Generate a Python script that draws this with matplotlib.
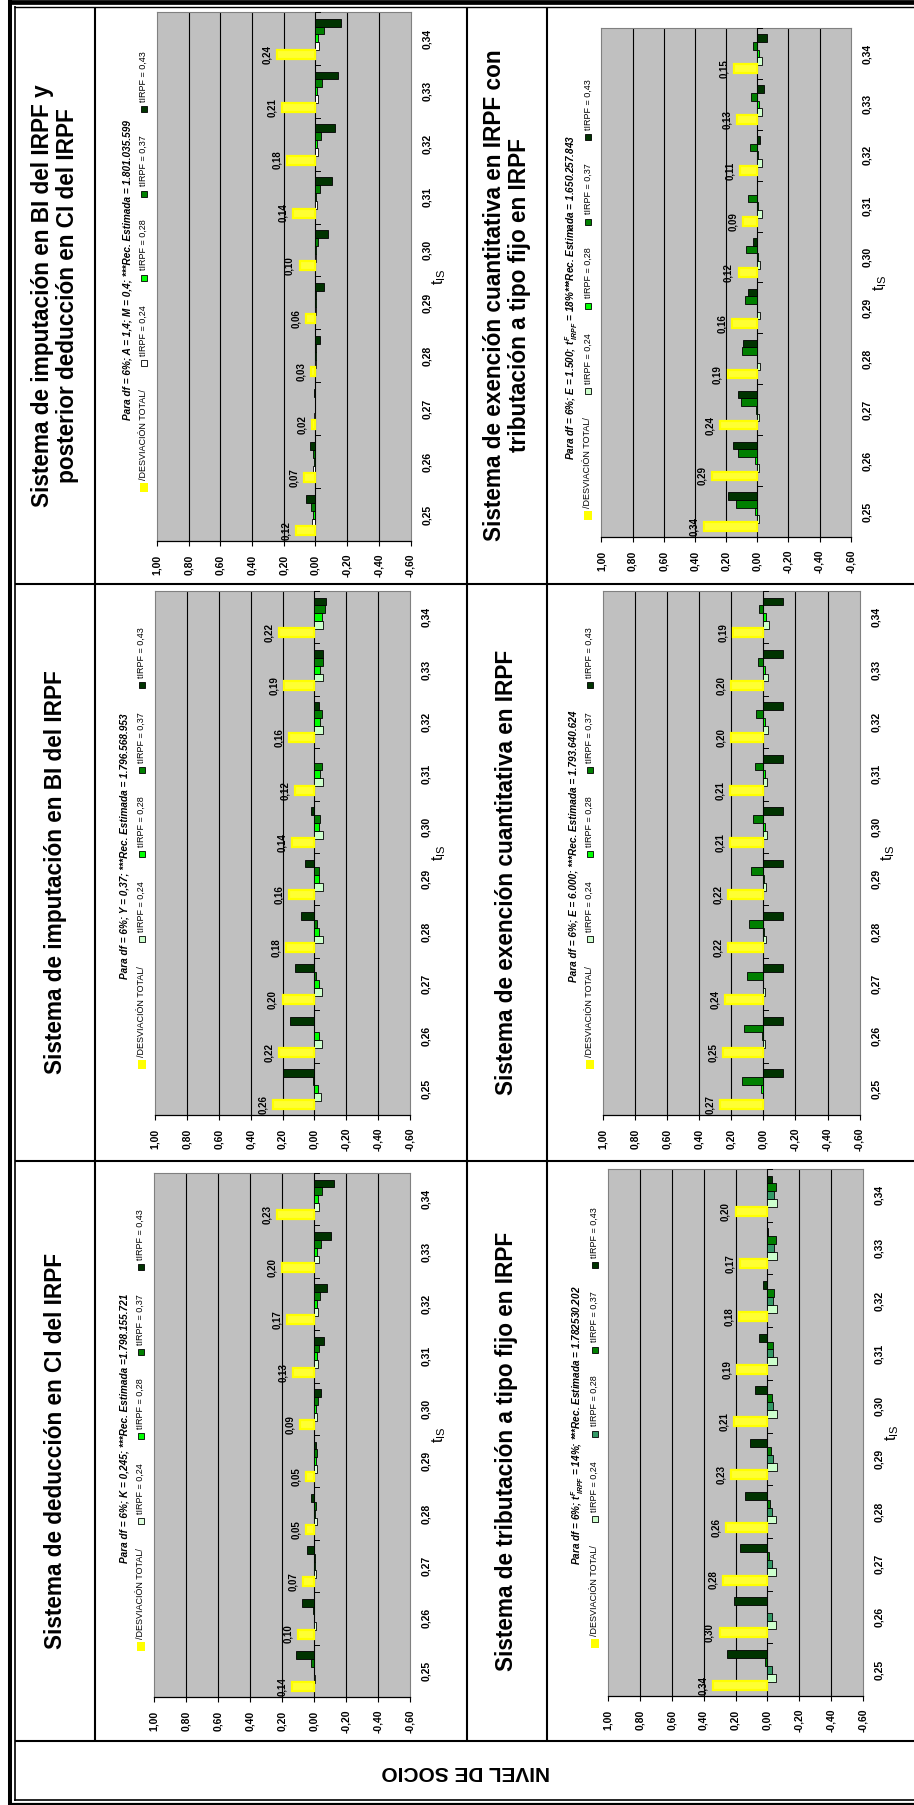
import matplotlib
matplotlib.use("Agg")
import matplotlib.pyplot as plt
from matplotlib.lines import Line2D
from matplotlib.patches import Rectangle
from matplotlib import transforms
import numpy as np

plt.rcParams['font.family'] = ['Liberation Sans', 'DejaVu Sans']
plt.rcParams['mathtext.fontset'] = 'custom'
plt.rcParams['mathtext.rm'] = 'Liberation Sans'
plt.rcParams['mathtext.it'] = 'Liberation Sans:italic:bold'
plt.rcParams['mathtext.bf'] = 'Liberation Sans:bold'

# ---------------- data ----------------
categories = ["0,25", "0,26", "0,27", "0,28", "0,29", "0,30", "0,31", "0,32", "0,33", "0,34"]
value_ticks = [1.0, 0.8, 0.6, 0.4, 0.2, 0.0, -0.2, -0.4, -0.6]
value_tick_labels = ["1,00", "0,80", "0,60", "0,40", "0,20", "0,00", "-0,20", "-0,40", "-0,60"]
series_names = ["/DESVIACIÓN TOTAL/", "tIRPF = 0,24", "tIRPF = 0,28", "tIRPF = 0,37", "tIRPF = 0,43"]

# Sistema de deducción en CI del IRPF
ded_total = [0.14, 0.10, 0.07, 0.05, 0.05, 0.09, 0.13, 0.17, 0.20, 0.23]
ded_t24 = [-0.006, -0.012, -0.012, -0.019, -0.020, -0.020, -0.025, -0.027, -0.033, -0.033]
ded_t28 = [0.000, 0.000, -0.004, -0.008, -0.010, -0.012, -0.015, -0.019, -0.019, -0.025]
ded_t37 = [0.019, 0.010, -0.004, -0.012, -0.017, -0.027, -0.031, -0.037, -0.044, -0.050]
ded_t43 = [0.114, 0.077, 0.046, 0.021, -0.012, -0.040, -0.062, -0.083, -0.104, -0.125]

# Sistema de imputación en BI del IRPF
imp_total = [0.26, 0.22, 0.20, 0.18, 0.16, 0.14, 0.12, 0.16, 0.19, 0.22]
imp_t24 = [-0.040, -0.045, -0.045, -0.051, -0.051, -0.051, -0.055, -0.055, -0.053, -0.057]
imp_t28 = [-0.023, -0.028, -0.028, -0.032, -0.030, -0.032, -0.036, -0.036, -0.036, -0.045]
imp_t37 = [0.009, 0.000, -0.011, -0.019, -0.028, -0.038, -0.045, -0.049, -0.055, -0.064]
imp_t43 = [0.198, 0.155, 0.123, 0.087, 0.060, 0.023, 0.004, -0.026, -0.051, -0.072]

# Sistema de imputación en BI del IRPF y posterior deducción en CI del IRPF
impded_total = [0.12, 0.07, 0.02, 0.03, 0.06, 0.10, 0.14, 0.18, 0.21, 0.24]
impded_t24 = [0.020, 0.015, 0.006, -0.002, -0.002, -0.004, -0.009, -0.019, -0.017, -0.021]
impded_t28 = [0.015, 0.009, 0.004, -0.002, -0.002, -0.004, -0.006, -0.009, -0.013, -0.015]
impded_t37 = [0.026, 0.015, 0.004, -0.002, -0.004, -0.019, -0.026, -0.032, -0.043, -0.051]
impded_t43 = [0.060, 0.032, 0.009, -0.028, -0.055, -0.077, -0.102, -0.123, -0.145, -0.162]

# Sistema de tributación a tipo fijo en IRPF
fijo_total = [0.34, 0.30, 0.28, 0.26, 0.23, 0.21, 0.19, 0.18, 0.17, 0.20]
fijo_t24 = [-0.056, -0.056, -0.056, -0.056, -0.061, -0.061, -0.061, -0.061, -0.063, -0.063]
fijo_t28 = [-0.027, -0.031, -0.031, -0.031, -0.038, -0.038, -0.038, -0.038, -0.044, -0.044]
fijo_t37 = [0.013, 0.000, -0.013, -0.015, -0.025, -0.031, -0.038, -0.044, -0.052, -0.056]
fijo_t43 = [0.251, 0.211, 0.172, 0.138, 0.107, 0.077, 0.050, 0.025, -0.004, -0.027]

# Sistema de exención cuantitativa en IRPF
exe_total = [0.27, 0.25, 0.24, 0.22, 0.22, 0.21, 0.21, 0.20, 0.20, 0.19]
exe_t24 = [0.000, -0.008, -0.013, -0.019, -0.019, -0.025, -0.025, -0.030, -0.030, -0.034]
exe_t28 = [0.013, 0.008, 0.002, -0.002, -0.004, -0.008, -0.008, -0.013, -0.013, -0.019]
exe_t37 = [0.133, 0.120, 0.105, 0.090, 0.080, 0.065, 0.055, 0.044, 0.034, 0.025]
exe_t43 = [-0.120, -0.120, -0.120, -0.120, -0.120, -0.120, -0.120, -0.120, -0.120, -0.120]

# Sistema de exención cuantitativa en IRPF con tributación a tipo fijo en IRPF
exefijo_total = [0.34, 0.29, 0.24, 0.19, 0.16, 0.12, 0.09, 0.11, 0.13, 0.15]
exefijo_t24 = [-0.009, -0.009, -0.011, -0.017, -0.021, -0.021, -0.028, -0.028, -0.030, -0.030]
exefijo_t28 = [0.013, 0.013, 0.006, 0.002, 0.000, -0.002, -0.008, -0.006, -0.011, -0.011]
exefijo_t37 = [0.138, 0.121, 0.106, 0.096, 0.079, 0.070, 0.057, 0.049, 0.038, 0.026]
exefijo_t43 = [0.189, 0.155, 0.121, 0.089, 0.060, 0.028, 0.000, -0.021, -0.045, -0.066]

titles = {
    "impded": ["Sistema de imputación en BI del IRPF y", "posterior deducción en CI del IRPF"],
    "imp": ["Sistema de imputación en BI del IRPF"],
    "ded": ["Sistema de deducción en CI del IRPF"],
    "exefijo": ["Sistema de exención cuantitativa en IRPF con", "tributación a tipo fijo en IRPF"],
    "exe": ["Sistema de exención cuantitativa en IRPF"],
    "fijo": ["Sistema de tributación a tipo fijo en IRPF"],
}
notes = {
    "impded": "Para df = 6%; A = 1,4; M = 0,4; ***Rec. Estimada = 1.801.035.599",
    "imp": "Para df = 6%; Y = 0,37; ***Rec. Estimada = 1.796.568.953",
    "ded": "Para df = 6%; K = 0,245; ***Rec. Estimada =1.798.155.721",
    "exefijo": r"Para df = 6%; E = 1.500; $t^{F}_{\ IRPF}$ = 18%***Rec. Estimada = 1.650.257.843",
    "exe": "Para df = 6%; E = 6.000; ***Rec. Estimada = 1.793.640.624",
    "fijo": r"Para df = 6%; $t^{F}_{\ IRPF}$ = 14%; ***Rec. Estimada = 1.782530.202",
}
series_data = {
    "impded": [impded_total, impded_t24, impded_t28, impded_t37, impded_t43],
    "imp": [imp_total, imp_t24, imp_t28, imp_t37, imp_t43],
    "ded": [ded_total, ded_t24, ded_t28, ded_t37, ded_t43],
    "exefijo": [exefijo_total, exefijo_t24, exefijo_t28, exefijo_t37, exefijo_t43],
    "exe": [exe_total, exe_t24, exe_t28, exe_t37, exe_t43],
    "fijo": [fijo_total, fijo_t24, fijo_t28, fijo_t37, fijo_t43],
}

# ---------------- layout / style ----------------
W, H = 914, 1805
fig = plt.figure(figsize=(W / 100, H / 100), dpi=100)
fig.patch.set_facecolor('white')

def FX(x):
    return x / W

def FY(y):
    return 1 - y / H

def hline(y, x0, x1, lw, color='black'):
    fig.add_artist(Line2D([FX(x0), FX(x1)], [FY(y), FY(y)], transform=fig.transFigure,
                          color=color, lw=lw, solid_capstyle='butt'))

def vline(x, y0, y1, lw, color='black'):
    fig.add_artist(Line2D([FX(x), FX(x)], [FY(y0), FY(y1)], transform=fig.transFigure,
                          color=color, lw=lw, solid_capstyle='butt'))

# page frame
vline(10.3, 0, 1805, 2.9)
vline(14.9, 6, 1801, 1.2)
hline(2.3, 8, 914, 3.4)
hline(6.7, 14, 914, 1.0)
hline(1800.2, 14, 914, 1.2)
hline(1803.9, 8, 914, 1.6)
for yy in [584, 1161, 1741]:
    hline(yy, 15, 914, 1.5)
for xx in [95.3, 467, 547]:
    vline(xx, 7, 1741, 1.5)

fig.text(FX(466), FY(1771), "NIVEL DE SOCIO", rotation=180, ha='center', va='center',
         fontsize=15, fontweight='bold')

color_sets = {
    "impded": ['#FFFF33', '#FFFFFF', '#00FF00', '#008000', '#003300'],
    "imp": ['#FFFF33', '#CCFFCC', '#00FF00', '#008000', '#003300'],
    "ded": ['#FFFF33', '#DDFFDD', '#00FF00', '#008000', '#003300'],
    "exefijo": ['#FFFF33', '#CCFFCC', '#00FF00', '#008000', '#003300'],
    "exe": ['#FFFF33', '#CCFFCC', '#00FF00', '#008000', '#003300'],
    "fijo": ['#FFFF33', '#CCFFCC', '#339966', '#008000', '#003300'],
}

# plot rectangles (x0, y0, x1, y1) in pixels, title-cell centres, legend shift
panels = {
    "impded": dict(rect=(157, 12, 410.5, 541), tx=55.5, ty=295.5, ls=0),
    "imp": dict(rect=(155, 591, 410, 1115), tx=55.5, ty=872.5, ls=0),
    "ded": dict(rect=(154.3, 1173, 410, 1697), tx=55.5, ty=1451, ls=0),
    "exefijo": dict(rect=(601.4, 28, 850.7, 537), tx=507, ty=295.5, ls=22),
    "exe": dict(rect=(603, 591, 859.6, 1115), tx=507, ty=872.5, ls=0),
    "fijo": dict(rect=(608, 1169, 863, 1696), tx=507, ty=1451, ls=0),
}

offsets = [-0.30, -0.15, 0.0, 0.15, 0.30]
legend_offsets = [211, 86, 1, -83, -168]
ypos = np.arange(len(categories))

for key, p in panels.items():
    x0, y0, x1, y1 = p['rect']
    ax = fig.add_axes([FX(x0), FY(y1), (x1 - x0) / W, (y1 - y0) / H])
    ax.set_facecolor('#C0C0C0')
    ax.set_xlim(1.0, -0.6)
    ax.set_ylim(-0.5, len(categories) - 0.5)
    for v in value_ticks[1:-1]:
        ax.axvline(v, color='black', lw=0.8, zorder=1)
    cols = color_sets[key]
    data = series_data[key]
    for s in range(1, 5):
        ax.barh(ypos + offsets[s], data[s], height=0.15, color=cols[s],
                edgecolor='black', linewidth=0.6, zorder=3)
    ax.barh(ypos + offsets[0], data[0], height=0.17, color=cols[0],
            edgecolor='#FFFF00', linewidth=1.6, zorder=3)
    for b in np.arange(-0.5, len(categories), 1.0):
        ax.plot([0, -0.03], [b, b], color='black', lw=0.7, zorder=4, clip_on=False)
    lab_tr = transforms.offset_copy(ax.transData, fig=fig, x=-10, y=0, units='dots')
    for i, v in enumerate(data[0]):
        ax.text(v, ypos[i] + offsets[0], ("%.2f" % v).replace('.', ','), transform=lab_tr,
                rotation=90, ha='center', va='center', fontsize=7, fontweight='bold', zorder=5)
    for sp in ['left', 'right', 'top']:
        ax.spines[sp].set_color('#808080')
        ax.spines[sp].set_linewidth(0.8)
    ax.spines['bottom'].set_color('black')
    ax.spines['bottom'].set_linewidth(0.9)
    ax.set_yticks([])
    ax.set_xticks(value_ticks)
    ax.tick_params(axis='x', direction='out', length=3.6, width=0.8, labelbottom=False)
    bt = transforms.blended_transform_factory(ax.transData, fig.transFigure)
    for v, lab in zip(value_ticks, value_tick_labels):
        fig.text(v, FY(y1 + 24), lab, transform=bt, rotation=90, ha='center', va='center',
                 fontsize=7.5, fontweight='bold')
    ct = transforms.blended_transform_factory(fig.transFigure, ax.transData)
    for i, lab in enumerate(categories):
        fig.text(FX(x1 + 16.5), ypos[i], lab, transform=ct, rotation=90, ha='center',
                 va='center', fontsize=7.5, fontweight='bold')
    yc = (y0 + y1) / 2
    fig.text(FX(x1 + 29), FY(yc), r'$\mathregular{t_{IS}}$', rotation=90, ha='center',
             va='center', fontsize=11.5)
    lyc = yc + p['ls']
    fig.text(FX(x0 - 30), FY(lyc - 7), notes[key], rotation=90, ha='center', va='center',
             fontsize=7.2, fontweight='bold', style='italic')
    lx = x0 - 13.5
    for s in range(5):
        my = lyc + legend_offsets[s]
        if s == 0:
            w_, h_ = 8, 9
            fig.add_artist(Rectangle((FX(lx - w_ / 2), FY(my + h_ / 2)), w_ / W, h_ / H,
                                     transform=fig.transFigure, facecolor='#FFFF00',
                                     edgecolor='none'))
        else:
            w_, h_ = 6, 6
            fig.add_artist(Rectangle((FX(lx - w_ / 2), FY(my + h_ / 2)), w_ / W, h_ / H,
                                     transform=fig.transFigure, facecolor=cols[s],
                                     edgecolor='black', lw=0.6))
        fig.text(FX(lx), FY(my - 7), series_names[s], rotation=90, ha='center', va='bottom',
                 fontsize=6.5)
    lines = titles[key]
    n = len(lines)
    for j, t in enumerate(lines):
        xx = p['tx'] + (j - (n - 1) / 2) * 25
        fig.text(FX(xx), FY(p['ty']), t, rotation=90, ha='center', va='center',
                 fontsize=16.3, fontweight='bold')

fig.savefig("out.png", dpi=100)
